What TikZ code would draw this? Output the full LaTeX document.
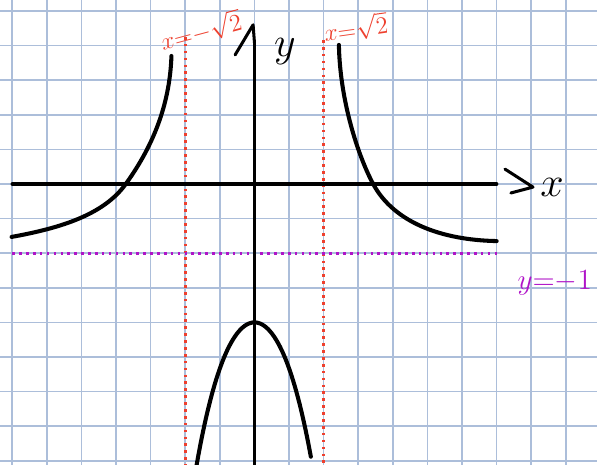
\documentclass[tikz,border=0pt]{standalone}
\definecolor{gridblue}{RGB}{172,190,218}
\definecolor{asymred}{RGB}{238,64,46}
\definecolor{asympurple}{RGB}{176,20,200}
\tikzset{
  gridline/.style={gridblue, line width=0.8pt},
  axisline/.style={black, line width=1.7pt, line cap=round, line join=round},
  branch/.style={black, line width=2pt, line cap=round},
  redasym/.style={asymred, line width=1.3pt, dash pattern=on 1.3pt off 2.1pt},
  purpleasym/.style={asympurple, line width=1.3pt, dash pattern=on 1.3pt off 2.1pt}
}
\begin{document}
\begin{tikzpicture}[x=0.6cm, y=0.6cm]
  \fill[white] (-7.355,-8.12) rectangle (9.9,5.318);
  \useasboundingbox (-7.355,-8.12) rectangle (9.9,5.318);
  \foreach \i in {-7,...,9} \draw[gridline] (\i,-8.12) -- (\i,5.318);
  \foreach \j in {-8,...,5} \draw[gridline] (-7.355,\j) -- (9.9,\j);
  % asymptotes
  \coordinate (l0) at (-2,4.25); \coordinate (l1) at (-2,-8.12);
  \coordinate (r0) at (2,4.16);  \coordinate (r1) at (2,-8.12);
  \coordinate (h0) at (-7,-2);   \coordinate (h1) at (7,-2);
  \draw[redasym] (l0) -- (l1);
  \draw[redasym] (r0) -- (r1);
  \draw[purpleasym] (h0) -- (h1);
  % axes
  \coordinate (xa) at (-7,0); \coordinate (xb) at (7,0);
  \coordinate (ya) at (0,4.08); \coordinate (yb) at (0,-8.12);
  \draw[axisline] (xa) -- (xb);
  \draw[axisline] (ya) -- (yb);
  \draw[axisline, line width=1.5pt] (7.24,0.43) -- (8.05,-0.09) -- (7.41,-0.26);
  \draw[axisline, line width=1.5pt] (-0.56,3.73) -- (-0.04,4.6) -- (ya);
  \node (xlab) at (8.6,-0.09) {\fontsize{20}{20}\selectfont $x$};
  \node (ylab) at (0.88,3.82) {\fontsize{20}{20}\selectfont $y$};
  % labels of the asymptotes
  \node[asymred, rotate=15, inner sep=1pt] (lab1) at (-1.55,4.42) {\fontsize{12.5}{12.5}\selectfont $x{=}{-}\sqrt{2}$};
  \node[asymred, rotate=8, inner sep=1pt] (lab2) at (2.93,4.5) {\fontsize{13}{13}\selectfont $x{=}\sqrt{2}$};
  \node[asympurple] (lab3) at (8.68,-2.86) {\fontsize{15}{15}\selectfont $y{=}{-}1$};
  % the graph
  \draw[branch] (-2.40,3.70) .. controls (-2.45,2.2) and (-3.0,1.0) .. (-3.72,0)
                .. controls (-4.34,-0.86) and (-5.52,-1.26) .. (-7.02,-1.53);
  \draw[branch] (2.44,4.02) .. controls (2.47,2.4) and (3.0,0.8) .. (3.43,0)
                .. controls (4.03,-1.11) and (5.4,-1.62) .. (7.0,-1.65);
  \draw[branch] plot[domain=-1.68:1.63, samples=60] (\x,{-4-1.25*\x*\x-0.08*\x*\x*\x*\x});
\end{tikzpicture}
\end{document}
